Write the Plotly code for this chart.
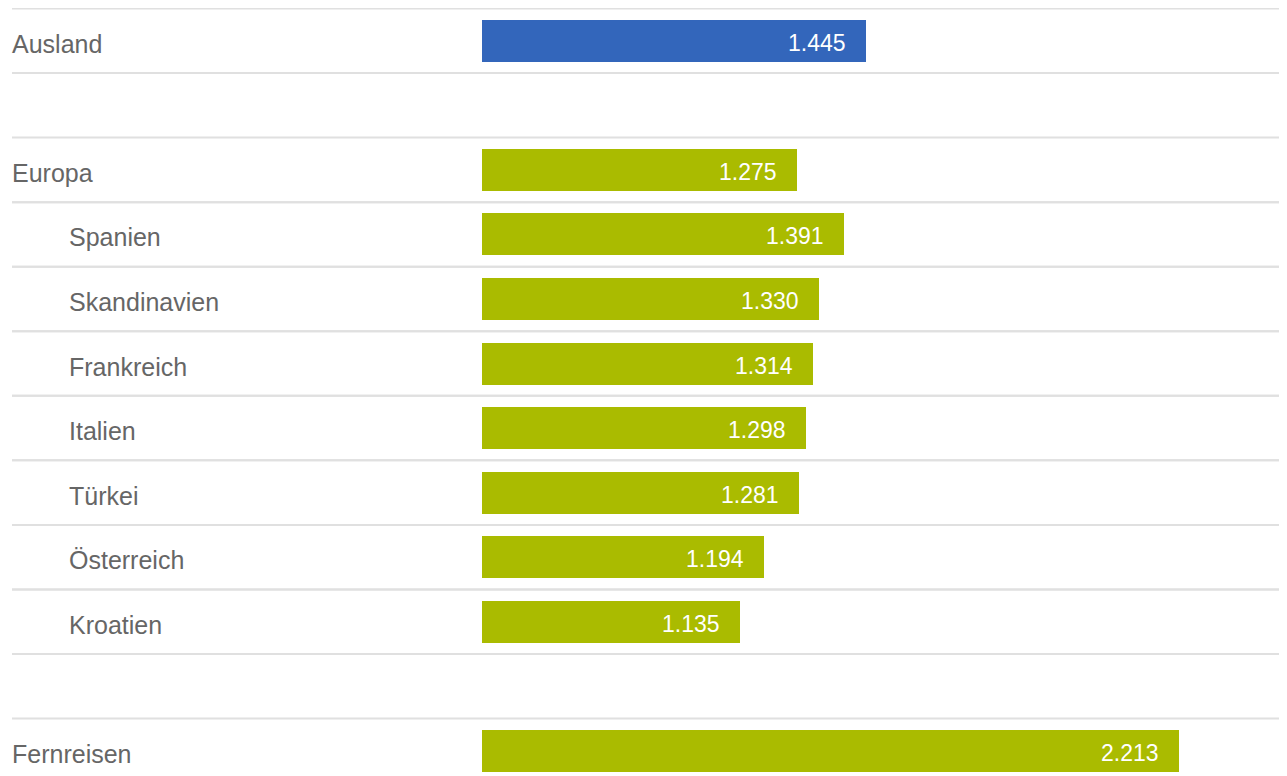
import plotly.graph_objects as go

categories = ["Ausland", "", "Europa", "Spanien", "Skandinavien", "Frankreich",
              "Italien", "Türkei", "Österreich", "Kroatien", "", "Fernreisen"]
values = [1445, None, 1275, 1391, 1330, 1314, 1298, 1281, 1194, 1135, None, 2213]
indent = [False, False, False, True, True, True, True, True, True, True, False, False]
bar_colors = ["#3366bb", None, "#aabb00", "#aabb00", "#aabb00", "#aabb00",
              "#aabb00", "#aabb00", "#aabb00", "#aabb00", None, "#aabb00"]

W, H = 1287, 776
row_px = 64.55
ypos = list(range(len(categories)))

fig = go.Figure()
fig.add_trace(go.Bar(
    x=[v if v is not None else 0 for v in values],
    y=ypos,
    orientation="h",
    marker=dict(color=[c if c else "rgba(0,0,0,0)" for c in bar_colors], line=dict(width=0)),
    width=0.65,
    hoverinfo="skip",
    showlegend=False,
))

annotations = []
shapes = []
for i, (cat, v, ind) in enumerate(zip(categories, values, indent)):
    if v is None:
        continue
    annotations.append(dict(
        x=(59 if ind else 2) / W, xref="paper", xanchor="left",
        y=i, yref="y", yanchor="middle", yshift=-3,
        text=cat, showarrow=False,
        font=dict(family="Liberation Sans, Arial, sans-serif", size=25, color="#666666"),
    ))
    annotations.append(dict(
        x=v, xref="x", xanchor="right", xshift=-18,
        y=i, yref="y", yanchor="middle", yshift=-2,
        text=f"{v:,}".replace(",", "."), showarrow=False,
        font=dict(family="Liberation Sans, Arial, sans-serif", size=23, color="#ffffff"),
    ))
    for yy in (i - 0.5, i + 0.5):
        shapes.append(dict(
            type="line", xref="paper", yref="y",
            x0=4 / W, x1=1, y0=yy, y1=yy,
            line=dict(color="#e0e0e0", width=2), layer="below",
        ))

top = -0.5 - 0.5 / row_px
bottom = top + H / row_px

fig.update_layout(
    width=W, height=H,
    margin=dict(l=0, r=0, t=0, b=0),
    paper_bgcolor="white", plot_bgcolor="white",
    xaxis=dict(domain=[474 / W, 1], range=[503, 2497.5], visible=False, fixedrange=True),
    yaxis=dict(range=[bottom, top], visible=False, fixedrange=True),
    annotations=annotations,
    shapes=shapes,
    bargap=0,
)

fig.write_html("out.html", config={"displayModeBar": False})
